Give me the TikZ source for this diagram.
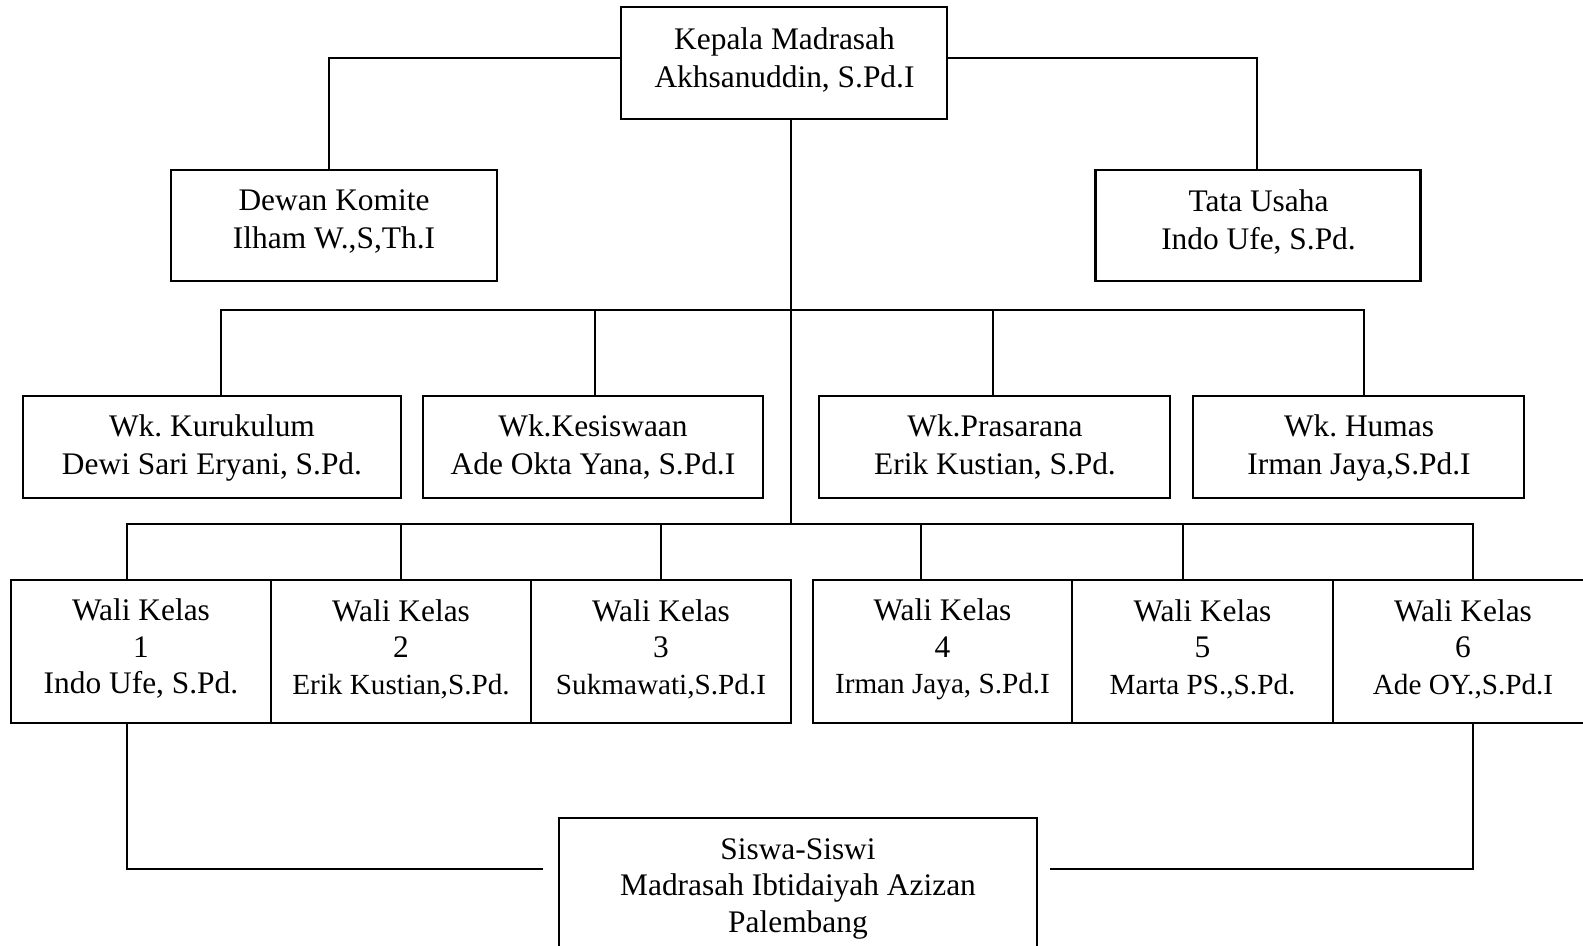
\documentclass[tikz,border=0pt]{standalone}
\usepackage{fontspec}
\setmainfont{Liberation Serif}
\frenchspacing
\tikzset{
  box/.style={draw, line width=1.2pt, inner sep=0pt},
  txt/.style={align=center, inner sep=0pt, font=\fontsize{15.7}{19}\selectfont},
  txtw/.style={align=center, inner sep=0pt, font=\fontsize{15.7}{18.25}\selectfont},
  link/.style={line width=1.2pt},
}
\newcommand{\smallname}[1]{{\fontsize{14.6}{18.25}\selectfont #1}}
\begin{document}
\begin{tikzpicture}[x=0.5pt,y=-0.5pt]
\useasboundingbox (0,0) rectangle (1583,946);
\clip (0,0) rectangle (1583,946);
% top
\node[box, minimum width=163pt, minimum height=56pt] (kepala) at (784,63) {};
\node[txt] (kepalaT) at (784.5,60.5) {Kepala Madrasah\\Akhsanuddin, S.Pd.I};
\node[box, minimum width=163pt, minimum height=55.5pt] (dewan) at (334,225.5) {};
\node[txt] (dewanT) at (334,222) {Dewan Komite\\Ilham W.,S,Th.I};
\node[box, minimum width=162.5pt, minimum height=55.5pt] (tata) at (1258,225.5) {};
\node[txt] (tataT) at (1258.5,222) {Tata Usaha\\Indo Ufe, S.Pd.};
% row 2
\node[box, minimum width=189pt, minimum height=51pt] (kur) at (212,447) {};
\node[txt] (kurT) at (212,447.5) {Wk. Kurukulum\\Dewi Sari Eryani, S.Pd.};
\node[box, minimum width=170pt, minimum height=51pt] (kes) at (593,447) {};
\node[txt] (kesT) at (593,447.5) {Wk.Kesiswaan\\Ade Okta Yana, S.Pd.I};
\node[box, minimum width=175.5pt, minimum height=51pt] (pras) at (994.5,447) {};
\node[txt] (prasT) at (995,447.5) {Wk.Prasarana\\Erik Kustian, S.Pd.};
\node[box, minimum width=165.5pt, minimum height=51pt] (hum) at (1358.5,447) {};
\node[txt] (humT) at (1359,447.5) {Wk. Humas\\Irman Jaya,S.Pd.I};
% row 3
\node[box, minimum width=130pt, minimum height=71.5pt] (w1) at (141,651.5) {};
\node[txtw] (w1T) at (141,649) {Wali Kelas\\1\\Indo Ufe, S.Pd.};
\node[box, minimum width=130pt, minimum height=71.5pt] (w2) at (401,651.5) {};
\node[txtw] (w2T) at (401,649) {Wali Kelas\\2\\\smallname{Erik Kustian,S.Pd.}};
\node[box, minimum width=130pt, minimum height=71.5pt] (w3) at (661,651.5) {};
\node[txtw] (w3T) at (661,649) {Wali Kelas\\3\\\smallname{Sukmawati,S.Pd.I}};
\node[box, minimum width=129.5pt, minimum height=71.5pt] (w4) at (942.5,651.5) {};
\node[txtw] (w4T) at (942.5,649.5) {Wali Kelas\\4\\\smallname{Irman Jaya, S.Pd.I}};
\node[box, minimum width=130.5pt, minimum height=71.5pt] (w5) at (1202.5,651.5) {};
\node[txtw] (w5T) at (1202.5,649) {Wali Kelas\\5\\\smallname{Marta PS.,S.Pd.}};
\node[box, minimum width=130pt, minimum height=71.5pt] (w6) at (1463,651.5) {};
\node[txtw] (w6T) at (1463,649) {Wali Kelas\\6\\\smallname{Ade OY.,S.Pd.I}};
% bottom
\node[box, minimum width=239pt, minimum height=73pt] (siswa) at (798,891) {};
\node[txtw] (siswaT) at (798,888.5) {Siswa-Siswi\\Madrasah Ibtidaiyah Azizan\\Palembang};
% junctions
\coordinate (j1) at (791,310);
\coordinate (j2) at (791,524);
\coordinate (sl) at (543,869);
\coordinate (sr) at (1050,869);
% connectors
\draw[link] ([yshift=2.5pt]kepala.west) -| ([xshift=-2.5pt]dewan.north);
\draw[link] ([yshift=2.5pt]kepala.east) -| ([xshift=-0.5pt]tata.north);
\draw[link] ([xshift=3.5pt]kepala.south) -- (j2);
\draw[link] ([xshift=4.5pt]kur.north) |- (j1) -| ([xshift=2.75pt]hum.north);
\draw[link] ([xshift=1pt]kes.north) -- ([xshift=1pt]kes.north |- j1);
\draw[link] ([xshift=-0.75pt]pras.north) -- ([xshift=-0.75pt]pras.north |- j1);
\draw[link] ([xshift=-7pt]w1.north) |- (j2) -| ([xshift=5pt]w6.north);
\draw[link] (w2.north) -- (w2.north |- j2);
\draw[link] (w3.north) -- (w3.north |- j2);
\draw[link] ([xshift=-10.75pt]w4.north) -- ([xshift=-10.75pt]w4.north |- j2);
\draw[link] ([xshift=-9.75pt]w5.north) -- ([xshift=-9.75pt]w5.north |- j2);
\draw[link] ([xshift=-7pt]w1.south) |- (sl);
\draw[link] ([xshift=5pt]w6.south) |- (sr);
\end{tikzpicture}
\end{document}
